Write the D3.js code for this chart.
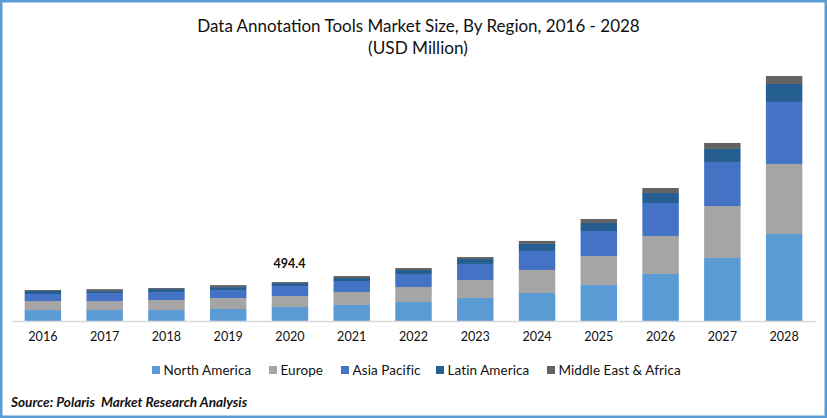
<!DOCTYPE html>
<html>
<head>
<meta charset="utf-8">
<script src="https://cdn.jsdelivr.net/npm/d3@7"></script>
<style>
  html, body { margin: 0; padding: 0; background: #fff; }
  svg { display: block; }
  text { font-family: Lato, "Open Sans", sans-serif; fill: #111; }
</style>
</head>
<body>
<svg id="chart" width="827" height="418"></svg>
<script>
const years = ["2016","2017","2018","2019","2020","2021","2022","2023","2024","2025","2026","2027","2028"];
const regions = ["North America","Europe","Asia Pacific","Latin America","Middle East & Africa"];
const colors = ["#5B9BD5","#A5A5A5","#4472C4","#255E91","#636363"];

// USD million
const northAmerica = [139,139,139,152,177,203,241,292,355,456,596,799,1103];
const europe = [114,114,127,139,139,165,190,228,292,368,482,659,888];
const asiaPacific = [89,101,101,101,127,139,165,203,241,317,418,558,786];
const latinAmerica = [38,25,38,38,38,38,51,63,89,101,127,165,228];
const middleEastAfrica = [13,25,13,25,13,25,25,25,38,51,63,76,101];

const w = 827, h = 418;
const baseline = 321;
const svg = d3.select("#chart");

// frame
svg.append("rect")
  .attr("x", 1).attr("y", 1)
  .attr("width", w - 2).attr("height", h - 2)
  .attr("fill", "#fff")
  .attr("stroke", colors[0]).attr("stroke-width", 3);

svg.append("text").attr("x", 418.5).attr("y", 32)
  .attr("text-anchor", "middle").attr("font-size", 17)
  .text("Data Annotation Tools Market Size, By Region, 2016 - 2028");
svg.append("text").attr("x", 418).attr("y", 54)
  .attr("text-anchor", "middle").attr("font-size", 17.2)
  .text("(USD Million)");

const x = d3.scaleBand().domain(years).range([12, 815])
  .paddingInner(0.41).paddingOuter(0.205);
// 494.4 in 2020 stands 39px tall
const y = d3.scaleLinear().domain([0, 494.4]).range([baseline, baseline - 39]);

const table = years.map((year, i) => ({
  year,
  "North America": northAmerica[i],
  "Europe": europe[i],
  "Asia Pacific": asiaPacific[i],
  "Latin America": latinAmerica[i],
  "Middle East & Africa": middleEastAfrica[i]
}));
const stacked = d3.stack().keys(regions)(table);

svg.append("g").selectAll("g").data(stacked).join("g")
  .attr("fill", (d, i) => colors[i])
  .selectAll("rect").data(d => d).join("rect")
  .attr("x", d => x(d.data.year))
  .attr("y", d => y(d[1]))
  .attr("width", x.bandwidth())
  .attr("height", d => y(d[0]) - y(d[1]));

const axis = svg.append("g")
  .attr("transform", `translate(0,${baseline})`)
  .call(d3.axisBottom(x).tickSize(0).tickPadding(11));
axis.select(".domain").attr("stroke", "#D9D9D9").attr("stroke-width", 1.5);
axis.selectAll("text").attr("font-size", 12.6).attr("font-family", "Lato").attr("fill", "#111");

// data label on the 2020 bar
svg.append("text")
  .attr("x", x("2020") + x.bandwidth() / 2 - 0.5)
  .attr("y", y(494.4) - 14)
  .attr("text-anchor", "middle")
  .attr("font-size", 12.5).attr("font-weight", 700)
  .text("494.4");

// legend
const legendX = [152, 269, 341, 436, 547];
const legend = svg.append("g").selectAll("g").data(regions).join("g")
  .attr("transform", (d, i) => `translate(${legendX[i]},366)`);
legend.append("rect").attr("width", 8).attr("height", 8)
  .attr("fill", (d, i) => colors[i]);
legend.append("text").attr("x", 11.5).attr("y", 9)
  .attr("font-size", 13.5)
  .style("letter-spacing", "0.08px")
  .text(d => d);

svg.append("text").attr("x", 11).attr("y", 407)
  .attr("font-size", 13.6).attr("font-weight", 700).attr("font-style", "italic")
  .attr("xml:space", "preserve")
  .text("Source: Polaris  Market Research Analysis");
</script>
</body>
</html>
